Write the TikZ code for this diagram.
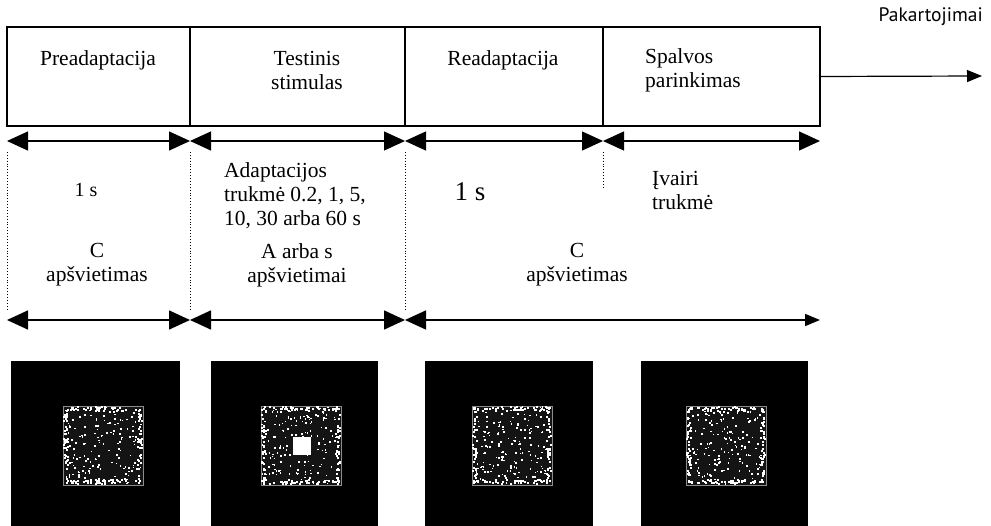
\documentclass[tikz,border=0pt]{standalone}
\usepackage{fontspec}
\setmainfont{Liberation Serif}
\newfontfamily\pkfont{PT Sans}
\usetikzlibrary{arrows.meta,calc}
\begin{document}
\begin{tikzpicture}[x=1pt,y=-1pt,
  stagebox/.style={draw, line width=1.3pt, anchor=north west, minimum height=99pt, inner sep=0pt, outer sep=0pt},
  lbl/.style={font=\fontsize{21.5}{24}\selectfont, align=center, inner sep=0pt},
  lbll/.style={lbl, align=left, anchor=west},
  bigtip/.tip={Triangle[length=21pt,width=19pt]},
  smalltip/.tip={Triangle[length=15pt,width=12pt]},
  span/.style={line width=1.2pt, {bigtip}-{bigtip}},
  guide/.style={line width=0.9pt, dotted},
  screen/.style={fill=black, draw=none, anchor=north west, inner sep=0pt, outer sep=0pt, minimum height=165pt},
  patch/.style={fill=black!92, draw=white!55!black, line width=0.8pt, anchor=north west, inner sep=0pt, outer sep=0pt, minimum width=80pt, minimum height=79pt}]
\useasboundingbox (0,0) rectangle (991,526);

% stage boxes
\node[stagebox, minimum width=183pt] (b1) at (7,27) {};
\node[stagebox, minimum width=215pt] (b2) at (190,27) {};
\node[stagebox, minimum width=198pt] (b3) at (405,27) {};
\node[stagebox, minimum width=217pt] (b4) at (603,27) {};

\node[lbl] (l1) at (98,60) {Preadaptacija};
\node[lbl] (l2) at (307,70) {Testinis\\stimulas};
\node[lbl] (l3) at (503,60) {Readaptacija};
\node[lbll] (l4) at (645,70) {Spalvos\\parinkimas};

% repetitions
\coordinate (rep) at (982,76);
\draw[line width=1.2pt, -{smalltip}] (b4.east) -- (rep);
\node[font=\pkfont\fontsize{19.5}{22}\selectfont, anchor=east, inner sep=0pt] (pk) at (983,17) {Pakartojimai};

% duration arrows
\coordinate (t0) at (7,141);
\coordinate (t1) at (190,141);
\coordinate (t2) at (405,141);
\coordinate (t3) at (603,141);
\coordinate (t4) at (820,141);
\draw[span] (t0) -- (t1);
\draw[span] (t1) -- (t2);
\draw[span] (t2) -- (t3);
\draw[span] (t3) -- (t4);

% dotted guides
\coordinate (g0a) at (7,152);   \coordinate (g0b) at (7,310);
\coordinate (g1a) at (190,152); \coordinate (g1b) at (190,310);
\coordinate (g2a) at (405,152); \coordinate (g2b) at (405,310);
\coordinate (g3a) at (603,152); \coordinate (g3b) at (603,188);
\draw[guide] (g0a) -- (g0b);
\draw[guide] (g1a) -- (g1b);
\draw[guide] (g2a) -- (g2b);
\draw[guide] (g3a) -- (g3b);

% durations
\node[lbl, font=\fontsize{20}{22}\selectfont] (d1) at (86,190) {1 s};
\node[lbll] (d2) at (224,196) {Adaptacijos\\trukmė 0.2, 1, 5,\\10, 30 arba 60 s};
\node[lbl, font=\fontsize{27}{30}\selectfont] (d3) at (470,192) {1 s};
\node[lbll] (d4) at (652,190) {Įvairi\\trukmė};

% illuminations
\node[lbl] (i1) at (97,265) {C\\apšvietimas};
\node[lbl] (i2) at (297,265) {A arba s\\apšvietimai};
\node[lbl] (i3) at (577,265) {C\\apšvietimas};

\coordinate (m0) at (7,320);
\coordinate (m1) at (190,320);
\coordinate (m2) at (405,320);
\coordinate (m3) at (820,320);
\draw[span, line width=1.5pt] (m0) -- (m1);
\draw[span, line width=1.5pt] (m1) -- (m2);
\draw[line width=1.5pt, {bigtip}-{smalltip}] (m2) -- (m3);

% screens
\node[screen, minimum width=169pt] (s1) at (11,361) {};
\node[screen, minimum width=167pt] (s2) at (211,361) {};
\node[screen, minimum width=168pt] (s3) at (425,361) {};
\node[screen, minimum width=167pt] (s4) at (641,361) {};

\node[patch] (p1) at (63,406) {};
\node[patch] (p2) at (261,406) {};
\node[patch] (p3) at (472,406) {};
\node[patch] (p4) at (686,406) {};

\pgfmathsetseed{7}
\foreach \p in {p1,p2,p3,p4}{
  \foreach \i in {1,...,170}{
    \pgfmathsetmacro\dx{rnd*78}
    \pgfmathsetmacro\dy{rnd*77}
    \fill[white] ($(\p.north west)+(\dx,\dy)$) rectangle ++(1.6,1.6);
  }
  \foreach \i in {1,...,40}{
    \pgfmathsetmacro\dx{rnd*78}
    \pgfmathsetmacro\dy{rnd*4}
    \fill[white] ($(\p.north west)+(\dx,\dy)$) rectangle ++(2,2);
    \fill[white] ($(\p.south west)+(\dx,-\dy-2)$) rectangle ++(2,2);
    \fill[white] ($(\p.north west)+(\dy,\dx)$) rectangle ++(2,2);
    \fill[white] ($(\p.north east)+(-\dy-2,\dx)$) rectangle ++(2,2);
  }
}
\node[fill=white, draw=none, inner sep=0pt, minimum size=18pt] (stim) at (302,446) {};
\end{tikzpicture}
\end{document}
